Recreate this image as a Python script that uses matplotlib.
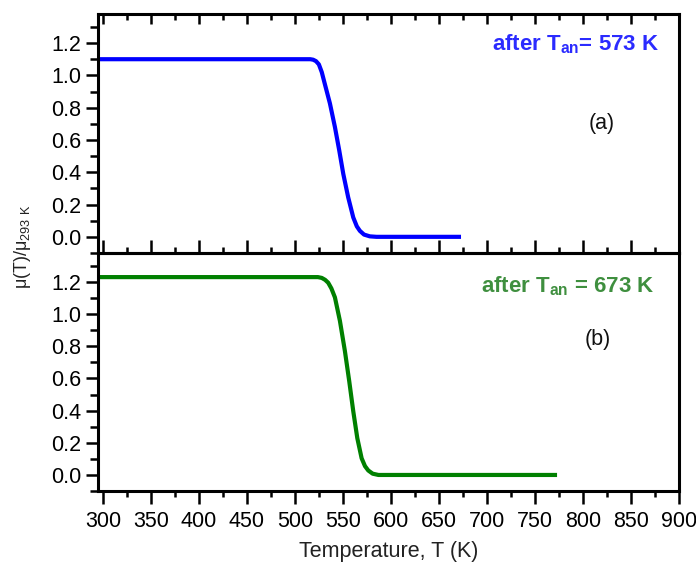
import matplotlib
matplotlib.use('Agg')
import matplotlib.pyplot as plt
from matplotlib.ticker import MultipleLocator, FormatStrFormatter

plt.rcParams['font.family'] = ['Liberation Sans', 'DejaVu Sans']
plt.rcParams['mathtext.fontset'] = 'custom'
plt.rcParams['mathtext.rm'] = 'Liberation Sans'
plt.rcParams['mathtext.bf'] = 'Liberation Sans:bold'

# annealed at 573 K (panel a)
temp_a = [293, 516, 519, 522, 525, 528, 531, 536.5, 541.7, 546.2, 550.4, 555.5, 560.8, 564.5, 567.7, 572, 578, 585, 673]
mu_a = [1.10, 1.10, 1.097, 1.088, 1.068, 1.02, 0.951, 0.826, 0.68, 0.535, 0.39, 0.245, 0.12, 0.065, 0.037, 0.014, 0.003, 0.0, 0.0]

# annealed at 673 K (panel b)
temp_b = [293, 524, 528, 531.5, 534.7, 538, 541.7, 546.9, 552.1, 556.6, 560.8, 565, 569.5, 573, 576.4, 581, 587, 773]
mu_b = [1.23, 1.23, 1.225, 1.213, 1.195, 1.16, 1.104, 0.958, 0.77, 0.583, 0.396, 0.229, 0.104, 0.055, 0.028, 0.008, 0.0, 0.0]

fig = plt.figure(figsize=(6.96, 5.69), dpi=100)
ax1 = fig.add_axes([0.1408, 0.5554, 0.8348, 0.42])
ax2 = fig.add_axes([0.1408, 0.1370, 0.8348, 0.4184])

for ax in (ax1, ax2):
    ax.set_xlim(295, 900)
    ax.set_ylim(-0.1, 1.38)
    ax.xaxis.set_major_locator(MultipleLocator(50))
    ax.xaxis.set_minor_locator(MultipleLocator(25))
    ax.yaxis.set_major_locator(MultipleLocator(0.2))
    ax.yaxis.set_minor_locator(MultipleLocator(0.1))
    ax.yaxis.set_major_formatter(FormatStrFormatter('%.1f'))
    for s in ax.spines.values():
        s.set_linewidth(2.2)
    ax.tick_params(axis='y', which='major', direction='out', length=9, width=1.8, labelsize=15.5, left=True, right=False, pad=3)
    ax.tick_params(axis='y', which='minor', direction='out', length=5.5, width=1.8, left=True, right=False)

ax1.tick_params(axis='x', which='both', direction='in', top=True, bottom=False, labelbottom=False, width=1.8)
ax1.tick_params(axis='x', which='major', length=7)
ax1.tick_params(axis='x', which='minor', length=4.5)

ax2.tick_params(axis='x', which='both', top=True, bottom=True, width=1.8, labelsize=15.5)
ax2.tick_params(axis='x', which='major', length=9.5, pad=5)
ax2.tick_params(axis='x', which='minor', length=4.5)

ax1.plot(temp_a, mu_a, color='#0000ff', lw=3, solid_joinstyle='round', solid_capstyle='butt')
ax2.plot(temp_b, mu_b, color='#008000', lw=3, solid_joinstyle='round', solid_capstyle='butt')

ax1.text(880, 1.19, r'after T$_{\mathbf{an}}$= 573 K', color='#2b2bff', fontsize=16,
         fontweight='bold', ha='right', va='center')
ax1.text(819, 0.70, '(a)', color='#111111', fontsize=15.5, ha='center', va='center')
ax2.text(874, 1.175, r'after T$_{\mathbf{an}}$ = 673 K', color='#3f8f3f', fontsize=16,
         fontweight='bold', ha='right', va='center')
ax2.text(815, 0.84, '(b)', color='#111111', fontsize=15.5, ha='center', va='center')

# tick marks hanging down from the shared boundary belong to ax2; keep them on top
ax2.set_zorder(2)
ax1.set_zorder(1)
ax2.patch.set_alpha(0)

ax2.set_xlabel('Temperature, T (K)', fontsize=15.5, color='#222222', labelpad=6)
fig.text(0.032, 0.566, r'μ(T)/μ$_{\rm 293\ K}$', rotation=90, fontsize=13,
         color='#222222', ha='center', va='center')

fig.savefig('out.png', dpi=100)
